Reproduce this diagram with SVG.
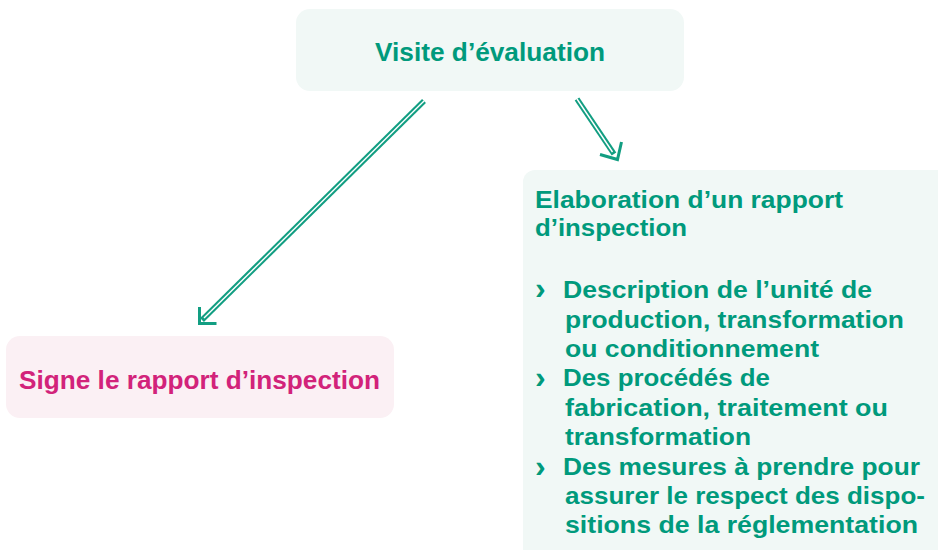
<svg xmlns="http://www.w3.org/2000/svg" width="938" height="550" viewBox="0 0 938 550">
<style>
.g{fill:#009a7c;font-family:"Liberation Sans",Arial,sans-serif;font-weight:bold}
.p{fill:#d2237a;font-family:"Liberation Sans",Arial,sans-serif;font-weight:bold}
.b{fill:#009a7c;font-family:"Liberation Sans",Arial,sans-serif;font-weight:bold;font-size:32px}
.shaft{fill:none;stroke:#129e82;stroke-width:5.5}
.gap{fill:none;stroke:#ffffff;stroke-width:1.4}
.head{fill:none;stroke:#129e82;stroke-width:3}
</style>
<rect width="938" height="550" fill="#ffffff"/>
<g id="node-visite">
<rect x="296" y="9" width="388" height="82" rx="14" fill="#f1f8f6"/>
<text class="g" x="375" y="61" font-size="26" textLength="230" lengthAdjust="spacingAndGlyphs">Visite d’évaluation</text>
</g>
<g id="node-signe">
<rect x="6" y="336" width="388" height="82" rx="14" fill="#fbf0f4"/>
<text class="p" x="19" y="389" font-size="26" textLength="361" lengthAdjust="spacingAndGlyphs">Signe le rapport d’inspection</text>
</g>
<g id="node-rapport">
<rect x="523" y="170" width="430" height="395" rx="12" fill="#f1f8f6"/>
<text class="g" x="535" y="208" font-size="23" textLength="308" lengthAdjust="spacingAndGlyphs">Elaboration d’un rapport</text>
<text class="g" x="535" y="236" font-size="23" textLength="152" lengthAdjust="spacingAndGlyphs">d’inspection</text>
<text class="b" x="535" y="299">›</text>
<text class="b" x="535" y="388">›</text>
<text class="b" x="535" y="477">›</text>
<g font-size="24">
<text class="g" x="563" y="298" textLength="309" lengthAdjust="spacingAndGlyphs">Description de l’unité de</text>
<text class="g" x="565" y="328" textLength="339" lengthAdjust="spacingAndGlyphs">production, transformation</text>
<text class="g" x="565" y="357" textLength="254" lengthAdjust="spacingAndGlyphs">ou conditionnement</text>
<text class="g" x="563" y="386" textLength="207" lengthAdjust="spacingAndGlyphs">Des procédés de</text>
<text class="g" x="565" y="416" textLength="323" lengthAdjust="spacingAndGlyphs">fabrication, traitement ou</text>
<text class="g" x="565" y="445" textLength="186" lengthAdjust="spacingAndGlyphs">transformation</text>
<text class="g" x="563" y="475" textLength="357" lengthAdjust="spacingAndGlyphs">Des mesures à prendre pour</text>
<text class="g" x="565" y="504" textLength="360" lengthAdjust="spacingAndGlyphs">assurer le respect des dispo-</text>
<text class="g" x="565" y="533" textLength="353" lengthAdjust="spacingAndGlyphs">sitions de la réglementation</text>
</g>
</g>
<g id="connectors">
<path class="shaft" d="M424,101 L202,320"/>
<path class="gap" d="M424,101 L204,318"/>
<polyline class="head" points="199.5,307 199.5,323.5 216.5,323.5"/>
<path class="shaft" d="M577,99 L614,154"/>
<path class="gap" d="M577,99 L612.5,152"/>
<polyline class="head" points="600,154.5 617.5,159.5 621.5,142"/>
</g>
</svg>
